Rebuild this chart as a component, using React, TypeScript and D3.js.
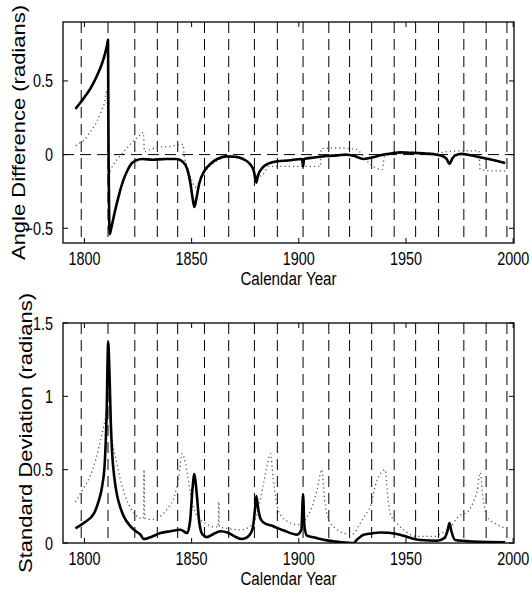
import React from "react";
import * as d3 from "d3";

// ---------- data ----------
const gridYears = [1798.5, 1811, 1823.5, 1834, 1843.5, 1856, 1867.3, 1879.3, 1890, 1902, 1914, 1923.7, 1934, 1944.5, 1954.5, 1965.2, 1977, 1987.4, 1997.1];
const xTicks = [1800, 1850, 1900, 1950, 2000];
const topYTicks = [-0.5, 0, 0.5];
const bottomYTicks = [0, 0.5, 1, 1.5];

// Angle difference, solid
const angleSolid: [number, number][] = [
  [1795.8, 0.31], [1798, 0.35], [1800, 0.39], [1802, 0.43], [1804, 0.48], [1806, 0.54], [1808, 0.61],
  [1809.5, 0.68], [1810.5, 0.74], [1811.0, 0.78], [1811.2, 0.15], [1811.8, -0.54], [1812.5, -0.5],
  [1814, -0.4], [1816, -0.28], [1818, -0.18], [1820, -0.11], [1822, -0.06], [1824, -0.04], [1827, -0.03],
  [1832, -0.035], [1838, -0.03], [1843, -0.03], [1846, -0.05], [1848, -0.1], [1849.5, -0.2], [1850.5, -0.3],
  [1851.3, -0.355], [1852.2, -0.3], [1853.5, -0.2], [1856, -0.11], [1859, -0.06], [1862, -0.03], [1866, -0.012],
  [1870, -0.015], [1874, -0.03], [1877, -0.06], [1879, -0.11], [1880.2, -0.19], [1881, -0.14], [1883, -0.09],
  [1886, -0.06], [1890, -0.045], [1895, -0.04], [1901.5, -0.03], [1902, -0.08], [1902.5, -0.03], [1907, -0.02],
  [1913, -0.01], [1918, -0.005], [1922, 0], [1926, -0.01], [1930, -0.03], [1934, -0.02], [1938, -0.005],
  [1943, 0.008], [1948, 0.015], [1953, 0.012], [1958, 0.008], [1963, 0.002], [1967, -0.01], [1969, -0.03],
  [1970.3, -0.064], [1971.5, -0.03], [1973, -0.005], [1976, 0.005], [1980, -0.005], [1985, -0.02], [1990, -0.035],
  [1996.3, -0.057],
];

// Angle difference, dotted
const angleDotted: [number, number][] = [
  [1796, 0.06], [1798, 0.08], [1800, 0.1], [1802, 0.14], [1804, 0.18], [1806, 0.23], [1808, 0.3], [1809.5, 0.36],
  [1810.4, 0.43], [1811.5, -0.12], [1813, -0.08], [1816, -0.02], [1819, 0.03], [1822, 0.08], [1825, 0.12],
  [1827.5, 0.15], [1828, 0.02], [1830, 0.03], [1834, 0.05], [1840, 0.055], [1846, 0.07], [1846.5, 0.0],
  [1848, -0.08], [1850, -0.17], [1851.5, -0.22], [1853, -0.2], [1856, -0.12], [1860, -0.06], [1865, -0.02],
  [1870, -0.01], [1875, -0.04], [1878, -0.08], [1880.5, -0.15], [1883.5, -0.13], [1886, -0.08], [1895, -0.08],
  [1905, -0.08], [1910, -0.08], [1910.5, 0.04], [1918, 0.045], [1927, 0.035], [1930, -0.01], [1933, -0.06],
  [1936, -0.09], [1939, -0.1], [1940, -0.01], [1945, 0.005], [1955, 0.01], [1965, 0.01], [1969, 0.02],
  [1977, 0.025], [1984, 0.025], [1984.6, -0.1], [1990, -0.11], [1996.3, -0.11],
];

// Standard deviation, solid
const stdSolid: [number, number][] = [
  [1795.8, 0.1], [1800, 0.14], [1804.4, 0.2], [1806.5, 0.28], [1808.3, 0.39], [1809.5, 0.55], [1810.3, 0.85],
  [1811.1, 1.37], [1811.7, 1.15], [1812.3, 0.82], [1812.9, 0.62], [1814, 0.44], [1815.3, 0.32], [1816.8, 0.24],
  [1818.4, 0.18], [1821.5, 0.113], [1824, 0.08], [1826.1, 0.057], [1827.7, 0.027], [1830, 0.035], [1835.5, 0.068],
  [1840, 0.08], [1844.8, 0.09], [1847.9, 0.068], [1849.3, 0.15], [1850.3, 0.35], [1851.3, 0.47], [1852.3, 0.35],
  [1853.5, 0.15], [1855, 0.06], [1857.2, 0.04], [1860, 0.06], [1863.4, 0.08], [1867, 0.07], [1870, 0.045],
  [1873.5, 0.027], [1876, 0.04], [1878.5, 0.1], [1879.5, 0.22], [1880.2, 0.32], [1881, 0.24], [1882, 0.17],
  [1883.5, 0.14], [1888.3, 0.113], [1893, 0.085], [1899.2, 0.057], [1901.2, 0.09], [1902, 0.33], [1902.6, 0.12],
  [1903.8, 0.05], [1908, 0.035], [1913.2, 0.018], [1920, 0.005], [1925.6, 0.0], [1927, 0.02], [1930.2, 0.057],
  [1934, 0.065], [1938, 0.072], [1942, 0.07], [1947.3, 0.057], [1952, 0.035], [1956.7, 0.02], [1964.5, 0.015],
  [1968, 0.035], [1969.5, 0.09], [1970.3, 0.136], [1971.2, 0.08], [1973, 0.02], [1981.5, 0.01], [1996.3, 0.005],
];

// Standard deviation, dotted
const stdDotted: [number, number][] = [
  [1795.8, 0.28], [1799, 0.36], [1802.8, 0.46], [1805.5, 0.58], [1807.5, 0.7], [1809.5, 0.83], [1811.3, 0.94],
  [1812.5, 0.75], [1815, 0.55], [1817, 0.42], [1819, 0.32], [1821.5, 0.24], [1824, 0.19], [1826, 0.17],
  [1827.6, 0.17], [1827.8, 0.5], [1828.1, 0.17], [1832, 0.16], [1836, 0.19], [1839, 0.24], [1842, 0.32],
  [1844, 0.45], [1845.6, 0.61], [1847, 0.55], [1848, 0.47], [1850, 0.3], [1852, 0.2], [1854, 0.16], [1857, 0.13],
  [1860, 0.11], [1862.4, 0.11], [1862.7, 0.28], [1863.0, 0.11], [1866.5, 0.1], [1872.7, 0.09], [1877, 0.11],
  [1879, 0.14], [1881.5, 0.26], [1883.6, 0.41], [1885.5, 0.55], [1886.8, 0.61], [1888, 0.45], [1889.9, 0.25],
  [1892, 0.18], [1894.5, 0.15], [1899.2, 0.125], [1903, 0.16], [1906, 0.24], [1908.5, 0.36], [1910.8, 0.5],
  [1912, 0.3], [1913.9, 0.16], [1917, 0.1], [1920.9, 0.068], [1925, 0.06], [1928.7, 0.136], [1931, 0.19],
  [1933.4, 0.25], [1936.5, 0.43], [1938.5, 0.48], [1940.3, 0.5], [1941.5, 0.32], [1942.7, 0.2], [1946, 0.13],
  [1948.9, 0.09], [1955.1, 0.045], [1962.9, 0.045], [1967, 0.07], [1970.7, 0.11], [1974.5, 0.18], [1979.2, 0.22],
  [1982, 0.3], [1983.1, 0.35], [1984.6, 0.48], [1986, 0.3], [1987.8, 0.18], [1992, 0.13], [1996.3, 0.1],
];

// ---------- layout ----------
const W = 532;
const H = 599;
const FONT = "'Liberation Sans', Arial, Helvetica, sans-serif";
const LEFT = 63;
const RIGHT = 514;

const x = d3.scaleLinear().domain([1790, 2000.4]).range([LEFT, RIGHT]);

interface PanelProps {
  top: number;
  bottom: number;
  yDomain: [number, number];
  yTicks: number[];
  solid: [number, number][];
  dotted: [number, number][];
  yLabel: string;
  yLabelX: number;
  zeroLine: boolean;
}

function Panel(p: PanelProps) {
  const y = d3.scaleLinear().domain(p.yDomain).range([p.bottom, p.top]);
  const line = d3
    .line<[number, number]>()
    .x((d) => x(d[0]))
    .y((d) => y(d[1]))
    .curve(d3.curveMonotoneX);
  const tickLen = 5;
  const fmt = (v: number) => (v < 0 ? "\u2212" + String(Math.abs(v)) : String(v));
  const clipId = `clip${p.top}`;
  return (
    <g>
      <defs>
        <clipPath id={clipId}>
          <rect x={LEFT} y={p.top} width={RIGHT - LEFT} height={p.bottom - p.top} />
        </clipPath>
      </defs>
      {/* grid */}
      {gridYears.map((g) => (
        <line key={g} x1={x(g)} x2={x(g)} y1={p.top} y2={p.bottom} stroke="#000" strokeWidth={1} strokeDasharray="11,6" />
      ))}
      {p.zeroLine && (
        <line x1={LEFT} x2={RIGHT} y1={y(0)} y2={y(0)} stroke="#000" strokeWidth={1} strokeDasharray="11,6" />
      )}
      <g clipPath={`url(#${clipId})`}>
        <path d={line(p.dotted) || ""} fill="none" stroke="#555" strokeWidth={1.3} strokeDasharray="1.2,3" />
        <path d={line(p.solid) || ""} fill="none" stroke="#000" strokeWidth={2.6} strokeLinejoin="round" />
      </g>
      {/* frame */}
      <rect x={LEFT} y={p.top} width={RIGHT - LEFT} height={p.bottom - p.top} fill="none" stroke="#000" strokeWidth={1.3} />
      {/* x ticks */}
      {xTicks.map((t) => (
        <g key={t}>
          <line x1={x(t)} x2={x(t)} y1={p.bottom} y2={p.bottom - tickLen} stroke="#000" strokeWidth={1} />
          <line x1={x(t)} x2={x(t)} y1={p.top} y2={p.top + tickLen} stroke="#000" strokeWidth={1} />
          <text
            transform={`translate(${x(t)},${p.bottom + 22}) scale(0.8,1)`}
            textAnchor="middle"
            fontFamily={FONT}
            fontSize={18}
            fill="#000"
          >
            {t}
          </text>
        </g>
      ))}
      {/* y ticks */}
      {p.yTicks.map((t) => (
        <g key={t}>
          <line x1={LEFT} x2={LEFT + tickLen} y1={y(t)} y2={y(t)} stroke="#000" strokeWidth={1} />
          <line x1={RIGHT} x2={RIGHT - tickLen} y1={y(t)} y2={y(t)} stroke="#000" strokeWidth={1} />
          <text
            transform={`translate(${LEFT - 10},${y(t) + 6.5}) scale(0.8,1)`}
            textAnchor="end"
            fontFamily={FONT}
            fontSize={18}
            fill="#000"
          >
            {fmt(t)}
          </text>
        </g>
      ))}
      {/* x label */}
      <text
        transform={`translate(${(LEFT + RIGHT) / 2},${p.bottom + 42}) scale(0.8,1)`}
        textAnchor="middle"
        fontFamily={FONT}
        fontSize={19}
        fill="#000"
      >
        Calendar Year
      </text>
      {/* y label */}
      <text
        transform={`translate(${p.yLabelX},${(p.top + p.bottom) / 2}) scale(0.82,1) rotate(-90)`}
        textAnchor="middle"
        fontFamily={FONT}
        fontSize={22}
        fill="#000"
      >
        {p.yLabel}
      </text>
    </g>
  );
}

export default function App() {
  return (
    <svg
      width={W}
      height={H}
      viewBox={`0 0 ${W} ${H}`}
      style={{ position: "absolute", left: 0, top: 0, background: "#fff" }}
    >
      <rect x={0} y={0} width={W} height={H} fill="#fff" />
      <Panel
        top={22}
        bottom={243}
        yDomain={[-0.6, 0.9]}
        yTicks={topYTicks}
        solid={angleSolid}
        dotted={angleDotted}
        yLabel="Angle Difference (radians)"
        yLabelX={25}
        zeroLine={true}
      />
      <Panel
        top={323}
        bottom={543}
        yDomain={[0, 1.5]}
        yTicks={bottomYTicks}
        solid={stdSolid}
        dotted={stdDotted}
        yLabel="Standard Deviation (radians)"
        yLabelX={32}
        zeroLine={false}
      />
    </svg>
  );
}
